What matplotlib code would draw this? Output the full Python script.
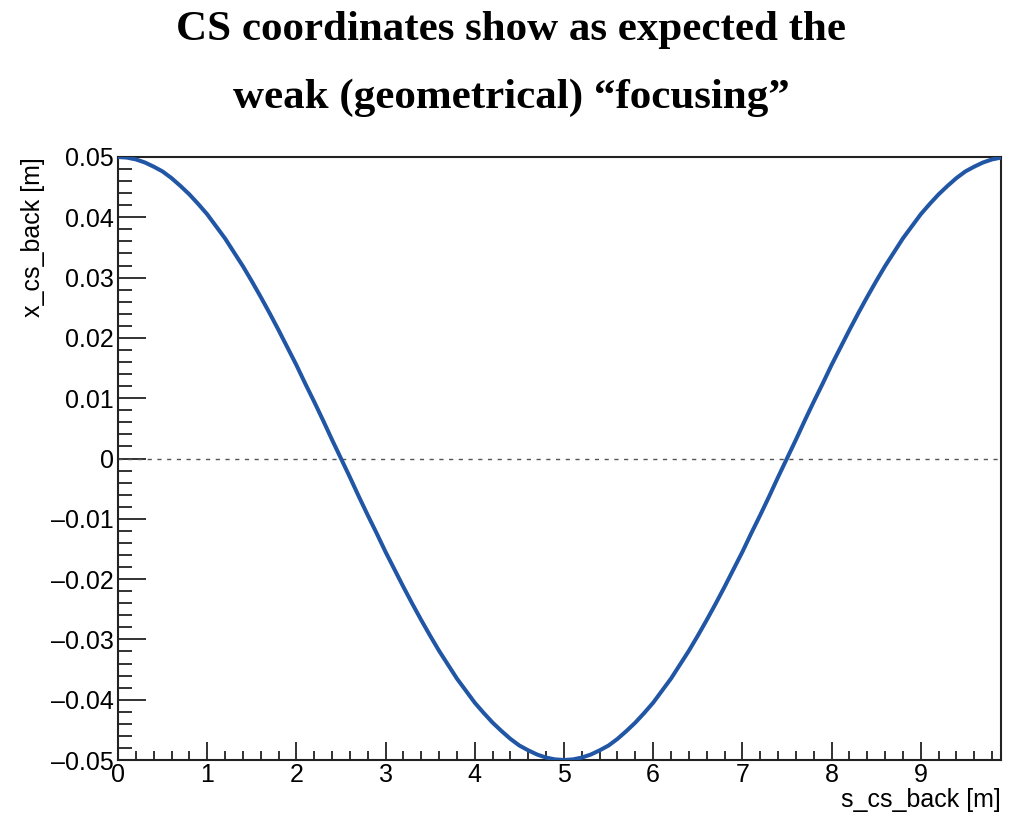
import matplotlib
matplotlib.use("Agg")
import matplotlib.pyplot as plt
from matplotlib.ticker import MultipleLocator, FuncFormatter

# Data
s_cs_back = [0.0, 0.1, 0.2, 0.3, 0.4, 0.5, 0.6, 0.7, 0.8, 0.9,
             1.0, 1.1, 1.2, 1.3, 1.4, 1.5, 1.6, 1.7, 1.8, 1.9,
             2.0, 2.1, 2.2, 2.3, 2.4, 2.5, 2.6, 2.7, 2.8, 2.9,
             3.0, 3.1, 3.2, 3.3, 3.4, 3.5, 3.6, 3.7, 3.8, 3.9,
             4.0, 4.1, 4.2, 4.3, 4.4, 4.5, 4.6, 4.7, 4.8, 4.9,
             5.0, 5.1, 5.2, 5.3, 5.4, 5.5, 5.6, 5.7, 5.8, 5.9,
             6.0, 6.1, 6.2, 6.3, 6.4, 6.5, 6.6, 6.7, 6.8, 6.9,
             7.0, 7.1, 7.2, 7.3, 7.4, 7.5, 7.6, 7.7, 7.8, 7.9,
             8.0, 8.1, 8.2, 8.3, 8.4, 8.5, 8.6, 8.7, 8.8, 8.9,
             9.0, 9.1, 9.2, 9.3, 9.4, 9.5, 9.6, 9.7, 9.8, 9.9]
x_cs_back = [0.0500, 0.0499, 0.0496, 0.0491, 0.0484, 0.0476, 0.0465, 0.0452, 0.0438, 0.0422,
             0.0405, 0.0385, 0.0365, 0.0342, 0.0319, 0.0294, 0.0268, 0.0241, 0.0213, 0.0184,
             0.0155, 0.0124, 0.0094, 0.0063, 0.0031, 0.0000, -0.0031, -0.0063, -0.0094, -0.0124,
             -0.0155, -0.0184, -0.0213, -0.0241, -0.0268, -0.0294, -0.0319, -0.0342, -0.0365, -0.0385,
             -0.0405, -0.0422, -0.0438, -0.0452, -0.0465, -0.0476, -0.0484, -0.0491, -0.0496, -0.0499,
             -0.0500, -0.0499, -0.0496, -0.0491, -0.0484, -0.0476, -0.0465, -0.0452, -0.0438, -0.0422,
             -0.0405, -0.0385, -0.0365, -0.0342, -0.0319, -0.0294, -0.0268, -0.0241, -0.0213, -0.0184,
             -0.0155, -0.0124, -0.0094, -0.0063, -0.0031, 0.0000, 0.0031, 0.0063, 0.0094, 0.0124,
             0.0155, 0.0184, 0.0213, 0.0241, 0.0268, 0.0294, 0.0319, 0.0342, 0.0365, 0.0385,
             0.0405, 0.0422, 0.0438, 0.0452, 0.0465, 0.0476, 0.0484, 0.0491, 0.0496, 0.0499]

title = "CS coordinates show as expected the\nweak (geometrical) \u201cfocusing\u201d"

fig = plt.figure(figsize=(10.12, 8.16), dpi=100)
ax = fig.add_axes([118/1012, 1-760/816, (1001-118)/1012, (760-157)/816])

ax.plot(s_cs_back, x_cs_back, color="#2156a5", lw=2.9, solid_capstyle="round", zorder=3)
ax.axhline(0, color="#555555", lw=1.0, ls=(0, (3, 4)), zorder=2)

ax.set_xlim(0, 9.9)
ax.set_ylim(-0.05, 0.05)

ax.xaxis.set_major_locator(MultipleLocator(1))
ax.xaxis.set_minor_locator(MultipleLocator(0.2))
ax.yaxis.set_major_locator(MultipleLocator(0.01))
ax.yaxis.set_minor_locator(MultipleLocator(0.002))

def yfmt(v, pos):
    if abs(v) < 1e-9:
        return "0"
    return ("%.2f" % v).replace("-", "\u2013")
ax.yaxis.set_major_formatter(FuncFormatter(yfmt))
ax.xaxis.set_major_formatter(FuncFormatter(lambda v, p: "%d" % round(v)))

for sp in ax.spines.values():
    sp.set_linewidth(1.5)
    sp.set_color("#222222")

ax.tick_params(axis="x", which="major", direction="in", length=13, width=1.3, color="#222222",
               labelsize=18, pad=2, top=False)
ax.tick_params(axis="x", which="minor", direction="in", length=6.5, width=1.3, color="#222222", top=False)
ax.tick_params(axis="y", which="major", direction="in", length=20, width=1.3, color="#222222",
               labelsize=18, pad=3, right=False)
ax.tick_params(axis="y", which="minor", direction="in", length=10, width=1.3, color="#222222", right=False)
for lab in ax.get_xticklabels() + ax.get_yticklabels():
    lab.set_fontfamily("Liberation Sans")

fig.text(1001/1012, 1-800/816, "s_cs_back [m]", ha="right", va="center",
         fontsize=18, family="Liberation Sans")
fig.text(33/1012, 1-157/816, "x_cs_back [m]", ha="center", va="top", rotation=90,
         fontsize=18, family="Liberation Sans")

fig.text(0.505, 1-64/816, title, ha="center", va="center", fontsize=31,
         fontweight="bold", family="Liberation Serif", linespacing=2.0)

fig.savefig("out.png", dpi=100)
